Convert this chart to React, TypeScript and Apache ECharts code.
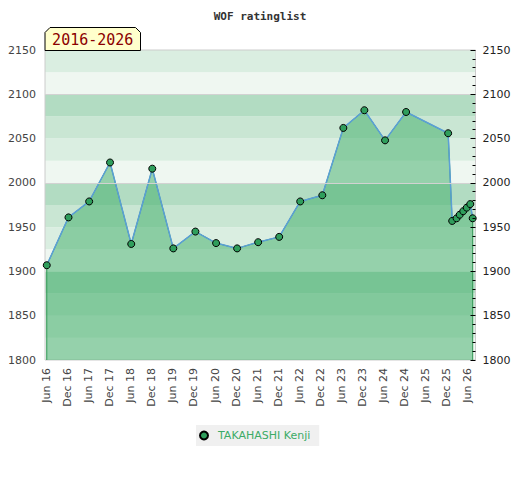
import React, { useEffect, useRef } from "react";
import * as echarts from "echarts";

// ---- data ----
const titleText = "WOF ratinglist";
const periodText = "2016-2026";
const playerName = "TAKAHASHI Kenji";

// x: months since Jun 2016
const xTickMonths = [0, 6, 12, 18, 24, 30, 36, 42, 48, 54, 60, 66, 72, 78, 84, 90, 96, 102, 108, 114, 120];
const xTickLabels = [
  "Jun 16", "Dec 16", "Jun 17", "Dec 17", "Jun 18", "Dec 18", "Jun 19", "Dec 19",
  "Jun 20", "Dec 20", "Jun 21", "Dec 21", "Jun 22", "Dec 22", "Jun 23", "Dec 23",
  "Jun 24", "Dec 24", "Jun 25", "Dec 25", "Jun 26",
];
const xMin = -0.5;
const xMax = 122.3;

const ratingMonths = [
  0, 6.2, 12.1, 18.05, 24.1, 30.1, 36.1, 42.4, 48.3, 54.3, 60.3, 66.3, 72.3, 78.6,
  84.6, 90.6, 96.5, 102.5, 114.5, 115.65, 116.9, 117.8, 118.8, 119.8, 120.8, 121.5,
];
const ratingValues = [
  1907, 1961, 1979, 2023, 1931, 2016, 1926, 1945, 1932, 1926, 1933, 1939, 1979, 1986,
  2062, 2082, 2048, 2080, 2056, 1957, 1960, 1964, 1968, 1972, 1976, 1960,
];

const yMin = 1800;
const yMax = 2150;
const yLabelStep = 50;
const bandStep = 25;
const bandColors = ["#eff7f1", "#daeee1", "#c9e6d3", "#b2dcc2"];
const bandLineValues = [2000, 2100];

export default function App() {
  const ref = useRef<HTMLDivElement>(null);

  useEffect(() => {
    if (!ref.current) return;
    const chart = echarts.init(ref.current, null, { renderer: "svg" });

    const points = ratingMonths.map((m, i) => [m, ratingValues[i]]);
    const areaPoints = [
      [ratingMonths[0], yMin],
      ...points,
      [ratingMonths[ratingMonths.length - 1], yMin],
    ];

    const font = "DejaVu Sans";
    const plain = (v: number) => String(Math.round(v));

    chart.setOption({
      animation: false,
      backgroundColor: "#ffffff",
      title: {
        text: titleText,
        left: "center",
        top: 6,
        textStyle: {
          fontFamily: "DejaVu Sans Mono",
          fontWeight: "bold",
          fontSize: 11,
          color: "#333333",
        },
      },
      legend: {
        data: [playerName],
        left: 196,
        top: 425,
        icon: "circle",
        itemWidth: 18,
        itemHeight: 8,
        padding: [5, 9, 5, 3],
        backgroundColor: "#f0f0f0",
        textStyle: { fontFamily: font, fontSize: 11, color: "#3cab66" },
      },
      grid: {
        left: 45,
        right: 44.5,
        top: 50,
        bottom: 120,
        show: true,
        z: 1,
        borderColor: "#cccccc",
        borderWidth: 1,
        backgroundColor: "transparent",
        outerBoundsMode: "none",
      },
      xAxis: {
        type: "value",
        min: xMin,
        max: xMax,
        splitLine: { show: false },
        axisLine: { show: false },
        axisTick: { show: false, customValues: xTickMonths },
        axisLabel: {
          customValues: xTickMonths,
          rotate: 90,
          margin: 8,
          fontFamily: font,
          fontSize: 11,
          color: "#444444",
          formatter: (v: number) => xTickLabels[xTickMonths.indexOf(Math.round(v))] ?? "",
        },
      },
      yAxis: [
        {
          type: "value",
          position: "left",
          min: yMin,
          max: yMax,
          interval: yLabelStep,
          axisLine: { show: false },
          axisTick: { show: false },
          splitLine: { show: false },
          axisLabel: { margin: 9, fontFamily: font, fontSize: 11, color: "#444444", formatter: plain },
        },
        {
          type: "value",
          position: "right",
          min: yMin,
          max: yMax,
          interval: yLabelStep,
          z: 5,
          axisLine: { show: false },
          axisTick: { show: true, inside: true, length: 5, lineStyle: { color: "#000000" } },
          minorTick: { show: true, splitNumber: 5, length: 3, lineStyle: { color: "#000000" } },
          splitLine: { show: false },
          axisLabel: { margin: 7, fontFamily: font, fontSize: 11, color: "#222222", formatter: plain },
        },
        {
          type: "value",
          position: "left",
          min: yMin,
          max: yMax,
          interval: bandStep,
          z: 0,
          axisLabel: { show: false },
          axisLine: { show: false },
          axisTick: { show: false },
          splitLine: { show: false },
          splitArea: { show: true, areaStyle: { color: bandColors } },
        },
      ],
      graphic: [
        {
          type: "polygon",
          z: 100,
          shape: {
            points: [
              [45, 50.5],
              [45, 32.5],
              [50, 27.5],
              [135.5, 27.5],
              [140.5, 32.5],
              [140.5, 50.5],
            ],
          },
          style: { fill: "#ffffcc", stroke: "#000000", lineWidth: 1 },
        },
        {
          type: "text",
          z: 101,
          x: 92.75,
          y: 39.5,
          style: {
            text: periodText,
            fontFamily: "DejaVu Sans Mono",
            fontSize: 15,
            fill: "#8b0000",
            align: "center",
            verticalAlign: "middle",
          },
        },
      ],
      series: [
        {
          name: "bandLines",
          type: "line",
          yAxisIndex: 0,
          data: [],
          silent: true,
          z: 1,
          markLine: {
            silent: true,
            symbol: "none",
            label: { show: false },
            lineStyle: { color: "#d2d2d2", type: "solid", width: 1 },
            data: bandLineValues.map((v) => ({ yAxis: v })),
          },
        },
        {
          name: "area",
          type: "line",
          yAxisIndex: 0,
          data: areaPoints,
          symbol: "none",
          silent: true,
          lineStyle: { color: "#2e9652", width: 1 },
          areaStyle: { color: "rgba(60,171,102,0.5)", opacity: 1, origin: "start" },
          z: 2,
        },
        {
          name: playerName,
          type: "line",
          yAxisIndex: 0,
          data: points,
          symbol: "circle",
          symbolSize: 7,
          lineStyle: { color: "#5b9fd6", width: 1.5 },
          itemStyle: { color: "#2f9e5c", borderColor: "#000000", borderWidth: 1 },
          z: 3,
        },
      ],
    });

    return () => chart.dispose();
  }, []);

  return (
    <div
      ref={ref}
      style={{ position: "absolute", left: 0, top: 0, width: 520, height: 480 }}
    />
  );
}
